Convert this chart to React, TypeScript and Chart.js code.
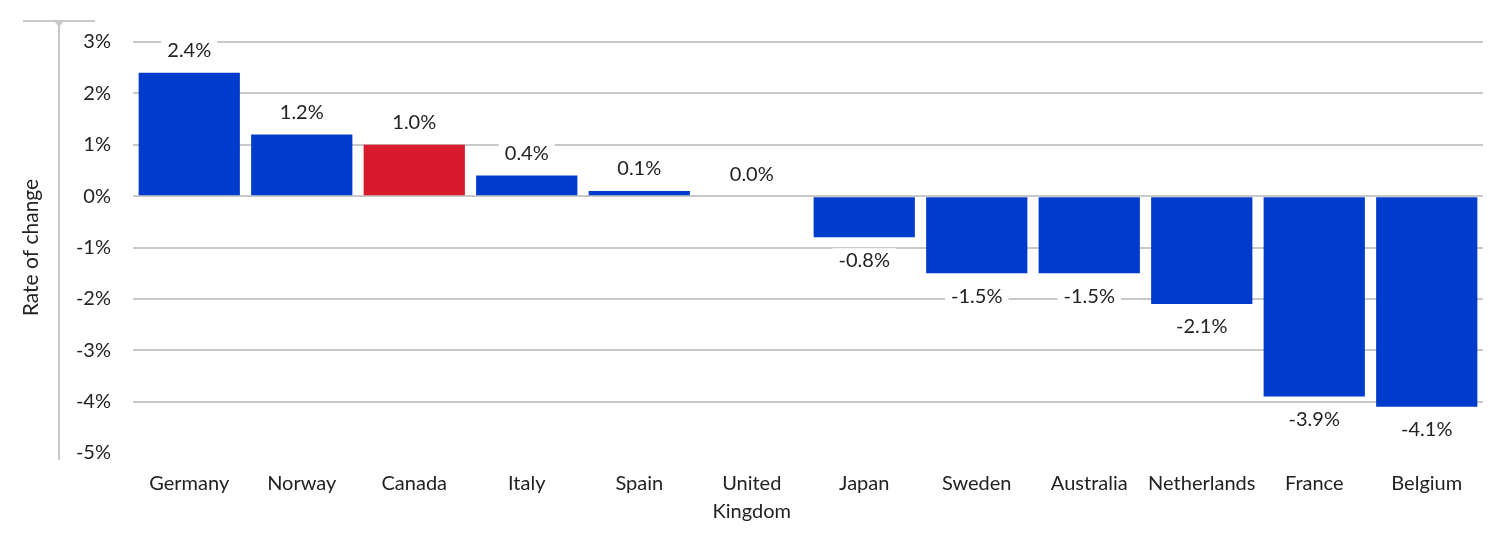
import React, { useEffect, useRef } from "react";
import { Chart, registerables } from "chart.js";

Chart.register(...registerables);

const categories: (string | string[])[] = [
  "Germany", "Norway", "Canada", "Italy", "Spain", ["United", "Kingdom"],
  "Japan", "Sweden", "Australia", "Netherlands", "France", "Belgium",
];
const values: number[] = [2.4, 1.2, 1.0, 0.4, 0.1, 0.0, -0.8, -1.5, -1.5, -2.1, -3.9, -4.1];
const highlight: string[] = ["Canada"];
const yTicks: number[] = [3, 2, 1, 0, -1, -2, -3, -4, -5];

const BLUE = "#003ccc";
const RED = "#d91a2e";
const FONT = "Lato, 'Open Sans', sans-serif";

const valueLabels = {
  id: "valueLabels",
  afterDatasetsDraw(chart: any) {
    const ctx = chart.ctx;
    const meta = chart.getDatasetMeta(0);
    const data = chart.data.datasets[0].data as number[];
    ctx.save();
    ctx.font = `20px ${FONT}`;
    ctx.textAlign = "center";
    ctx.textBaseline = "middle";
    meta.data.forEach((bar: any, i: number) => {
      const v = data[i];
      const txt = v.toFixed(1) + "%";
      const y = v >= 0 ? bar.y - 23 : bar.y + 22;
      const w = ctx.measureText(txt).width + 12;
      ctx.fillStyle = "#ffffff";
      ctx.fillRect(bar.x - w / 2, y - 11, w, 22);
      ctx.fillStyle = "#222222";
      ctx.fillText(txt, bar.x, y + 1);
    });
    ctx.restore();
  },
};

const axisDecor = {
  id: "axisDecor",
  afterDraw(chart: any) {
    const ctx = chart.ctx;
    const a = chart.chartArea;
    const x = a.left - 74;
    ctx.save();
    ctx.strokeStyle = "#c8c8c8";
    ctx.fillStyle = "#c8c8c8";
    ctx.lineWidth = 2;
    ctx.beginPath();
    ctx.moveTo(x, a.top - 20);
    ctx.lineTo(x, a.bottom + 7);
    ctx.stroke();
    ctx.beginPath();
    ctx.moveTo(x - 36, a.top - 21);
    ctx.lineTo(x + 36, a.top - 21);
    ctx.stroke();
    ctx.beginPath();
    ctx.moveTo(x - 5, a.top - 21);
    ctx.lineTo(x + 5, a.top - 21);
    ctx.lineTo(x, a.top - 15);
    ctx.closePath();
    ctx.fill();
    ctx.restore();
  },
};

export default function App() {
  const ref = useRef<HTMLCanvasElement>(null);
  useEffect(() => {
    document.body.style.margin = "0";
    const labelsText = categories.map((c) => (Array.isArray(c) ? c.join(" ") : c));
    const chart = new Chart(ref.current!, {
      type: "bar",
      data: {
        labels: categories as any,
        datasets: [
          {
            data: values,
            backgroundColor: labelsText.map((c) => (highlight.includes(c) ? RED : BLUE)),
            barPercentage: 0.9,
            categoryPercentage: 1.0,
          },
        ],
      },
      plugins: [valueLabels, axisDecor],
      options: {
        animation: false,
        responsive: true,
        maintainAspectRatio: false,
        layout: { padding: { top: 42, right: 17, left: 0, bottom: 0 } },
        plugins: { legend: { display: false }, tooltip: { enabled: false } },
        scales: {
          x: {
            afterFit(scale: any) {
              scale.height = 86;
            },
            grid: { display: false, drawTicks: false },
            border: { display: false },
            ticks: {
              color: "#222222",
              font: { family: FONT, size: 20, lineHeight: 1.4 },
              padding: 17,
              maxRotation: 0,
              autoSkip: false,
            },
          },
          y: {
            min: -5,
            max: 3,
            afterFit(scale: any) {
              scale.width = 133;
            },
            afterBuildTicks(scale: any) {
              scale.ticks = yTicks.map((v) => ({ value: v }));
            },
            grid: {
              drawTicks: false,
              lineWidth: 2,
              color: (c: any) => (c.tick && c.tick.value === -5 ? "rgba(0,0,0,0)" : "#c8c8c8"),
            },
            border: { display: false },
            ticks: {
              color: "#222222",
              font: { family: FONT, size: 20 },
              padding: 22,
              callback: (v: any) => `${v}%`,
            },
            title: {
              display: true,
              text: "Rate of change",
              color: "#222222",
              font: { family: FONT, size: 21 },
              padding: { top: 19, bottom: 0 },
            },
          },
        },
      },
    });
    return () => chart.destroy();
  }, []);
  return (
    <div style={{ width: 1500, height: 539, position: "relative" }}>
      <canvas ref={ref} />
    </div>
  );
}
